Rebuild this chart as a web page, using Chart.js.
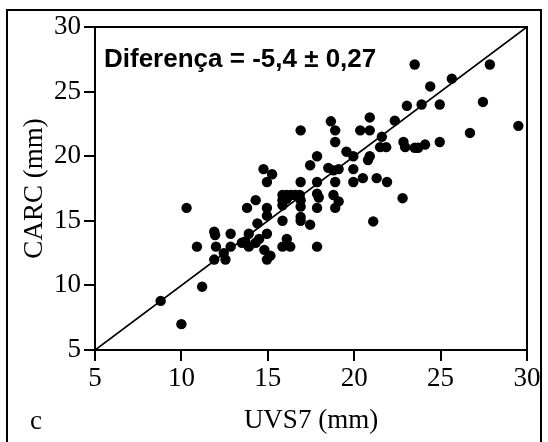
<!DOCTYPE html>
<html lang="pt">
<head>
  <meta charset="UTF-8" />
  <title>UVS7 vs CARC</title>
  <script src="https://cdn.jsdelivr.net/npm/chart.js"></script>
  <style>
    body {
      margin: 0;
      padding: 0;
      background: #fff;
    }
    #wrap {
      position: relative;
      width: 548px;
      height: 442px;
    }
  </style>
</head>
<body>
  <div id="wrap">
    <canvas id="chart"></canvas>
  </div>

  <script>
    const uvs7 = [8.8, 10.0, 10.3, 10.9, 11.2, 11.9, 11.95, 12.0, 11.9, 12.45, 12.55, 12.85, 12.85,
      13.5, 13.7, 13.8, 13.9, 13.9, 14.3, 14.4, 14.3, 14.5, 14.75, 15.25, 14.95, 14.95, 14.95, 14.95,
      14.8, 14.95, 15.15, 15.85, 16.1, 16.35, 16.6, 16.85, 15.85, 15.85, 16.1, 16.9, 16.9, 15.85,
      16.9, 16.9, 17.45, 16.1, 15.85, 16.3, 16.9, 16.9, 17.45, 17.85, 17.85, 17.85, 17.95, 17.85,
      17.85, 18.5, 18.65, 18.9, 18.9, 18.8, 19.1, 18.9, 18.8, 18.9, 19.1, 19.55, 19.95, 19.95, 19.95,
      20.5, 20.35, 20.9, 20.9, 20.9, 20.8, 21.3, 21.1, 21.6, 21.5, 21.85, 21.9, 22.35, 22.8, 22.85,
      22.95, 23.05, 23.5, 23.5, 23.7, 23.9, 24.1, 24.4, 24.95, 24.95, 25.65, 26.7, 27.45, 27.85, 29.5];
    const carc = [8.8, 7.0, 16.0, 13.0, 9.9, 14.15, 13.9, 13.0, 12.0, 12.5, 12.0, 14.0, 13.0,
      13.3, 13.4, 16.0, 14.0, 13.0, 16.6, 14.8, 13.3, 13.6, 19.0, 18.6, 18.0, 16.0, 15.4, 14.0,
      12.75, 12.0, 12.3, 17.0, 17.0, 17.0, 17.0, 17.0, 16.6, 16.2, 16.7, 16.6, 16.1, 15.0,
      15.3, 15.0, 14.7, 13.6, 13.0, 13.0, 22.0, 18.0, 19.3, 20.0, 18.0, 17.1, 16.8, 16.0,
      13.0, 19.1, 22.7, 22.0, 21.1, 18.9, 19.0, 18.0, 17.0, 16.0, 16.5, 20.35, 20.0, 19.0, 18.0,
      18.3, 22.0, 22.0, 23.0, 20.0, 19.7, 18.3, 14.95, 21.5, 20.7, 20.7, 18.0, 22.75, 16.75, 21.1,
      20.7, 23.9, 27.1, 20.65, 20.65, 24.0, 20.9, 25.4, 24.0, 21.1, 26.0, 21.8, 24.2, 27.1, 22.35];

    // line of identity
    const lineX = [5, 30];
    const lineY = [5, 30];

    const axisTicks = [5, 10, 15, 20, 25, 30];
    const xTitle = 'UVS7 (mm)';
    const yTitle = 'CARC (mm)';
    const note = 'Diferença = -5,4 ± 0,27';
    const panel = 'c';

    Chart.defaults.font.family = '"Liberation Serif", "Times New Roman", serif';
    Chart.defaults.color = '#000';

    const points = uvs7.map((x, i) => ({ x: x, y: carc[i] }));
    const identity = lineX.map((x, i) => ({ x: x, y: lineY[i] }));

    // frame, plot box and text labels
    const extras = {
      id: 'extras',
      afterDraw(chart) {
        const ctx = chart.ctx;
        const a = chart.chartArea;
        ctx.save();
        ctx.strokeStyle = '#000';
        ctx.lineWidth = 2;
        ctx.strokeRect(a.left, a.top, a.right - a.left, a.bottom - a.top);
        ctx.strokeRect(7, 10, 534, 440);

        ctx.fillStyle = '#000';
        ctx.textBaseline = 'alphabetic';
        ctx.textAlign = 'left';
        ctx.font = 'bold 26px "Liberation Sans", Arial, sans-serif';
        ctx.fillText(note, 104, 67);
        ctx.font = '27px "Liberation Serif", "Times New Roman", serif';
        ctx.fillText(panel, 30, 429);
        ctx.restore();
      }
    };

    const axisCommon = {
      type: 'linear',
      min: 5,
      max: 30,
      afterBuildTicks: axis => { axis.ticks = axisTicks.map(v => ({ value: v })); },
      grid: {
        drawOnChartArea: false,
        drawTicks: true,
        tickLength: 11,
        color: '#000',
        lineWidth: 2
      },
      border: { display: true, color: '#000', width: 2 }
    };

    new Chart(document.getElementById('chart'), {
      type: 'scatter',
      data: {
        datasets: [
          {
            data: points,
            backgroundColor: '#000',
            borderWidth: 0,
            pointRadius: 5.2,
            pointHoverRadius: 5.2
          },
          {
            type: 'line',
            data: identity,
            showLine: true,
            borderColor: '#000',
            borderWidth: 1.8,
            pointRadius: 0,
            fill: false
          }
        ]
      },
      options: {
        responsive: true,
        maintainAspectRatio: false,
        animation: false,
        layout: { padding: { left: 0, top: 27, right: 21, bottom: 0 } },
        plugins: {
          legend: { display: false },
          tooltip: { enabled: false }
        },
        scales: {
          x: {
            ...axisCommon,
            position: 'bottom',
            afterFit: scale => { scale.height = 92; },
            ticks: { padding: 2, font: { size: 27 } },
            title: {
              display: true,
              text: xTitle,
              font: { size: 27 },
              padding: { top: 0, bottom: 5 }
            }
          },
          y: {
            ...axisCommon,
            position: 'left',
            afterFit: scale => { scale.width = 95; },
            ticks: { padding: 3, font: { size: 27 } },
            title: {
              display: true,
              text: yTitle,
              font: { size: 27 },
              padding: { top: 19, bottom: 0 }
            }
          }
        }
      },
      plugins: [extras]
    });
  </script>
</body>
</html>
